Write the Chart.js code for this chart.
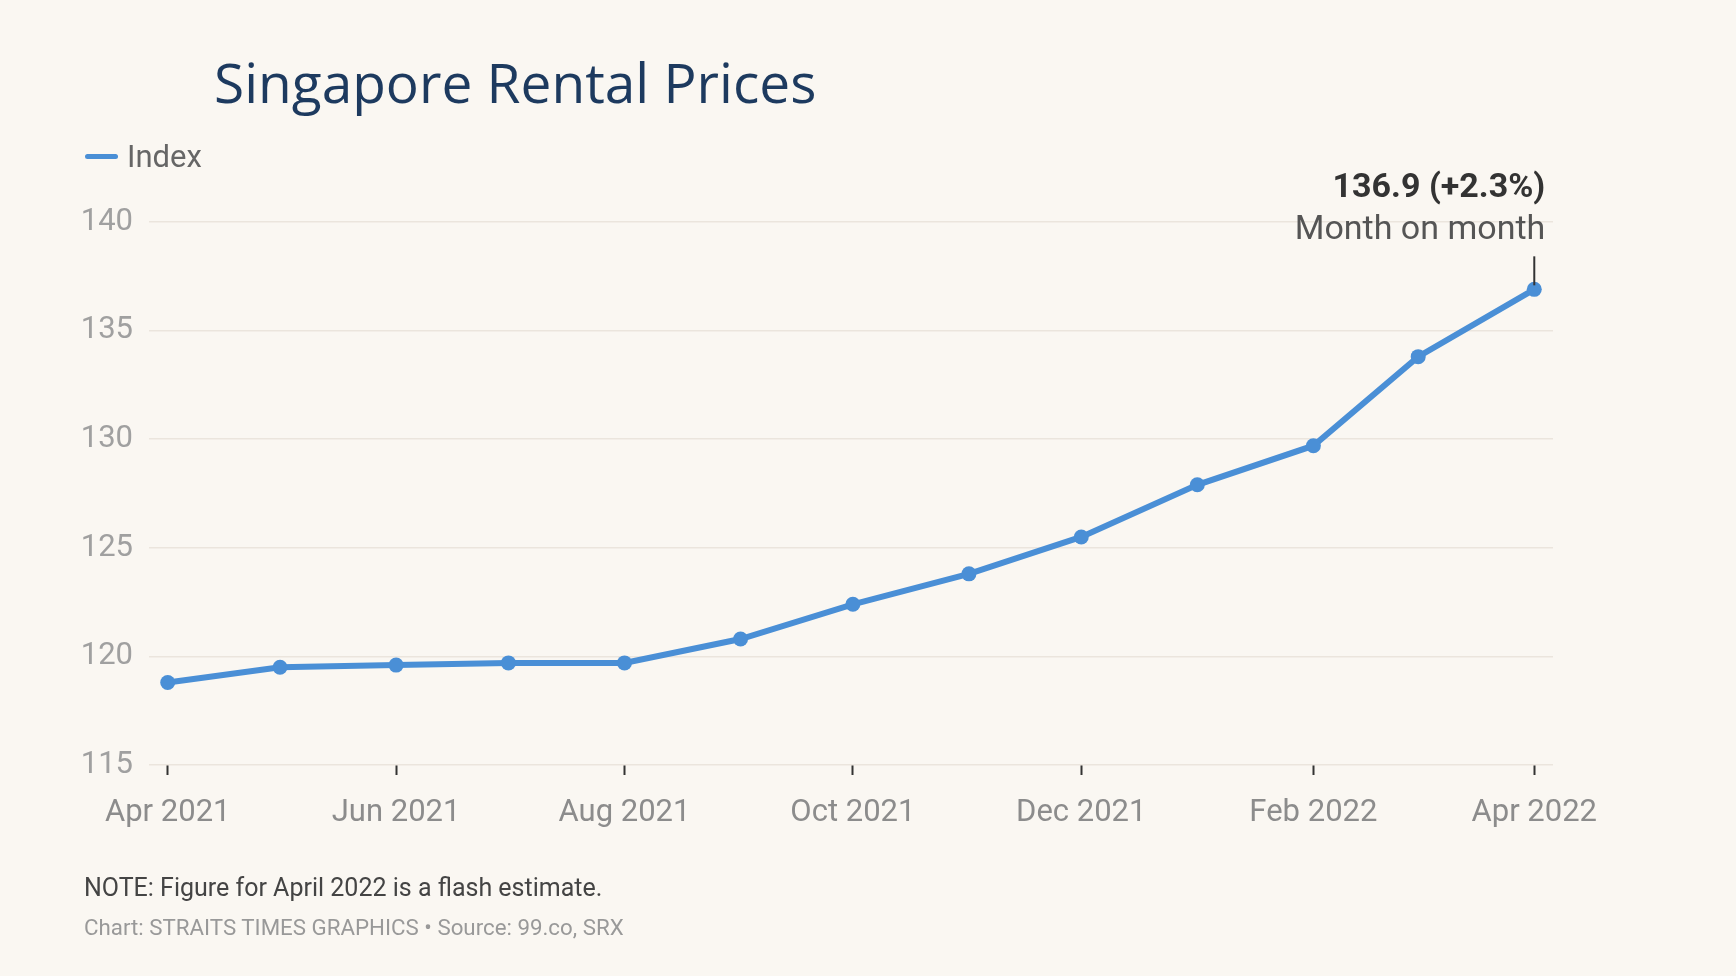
<!DOCTYPE html>
<html>
<head>
<meta charset="utf-8">
<script src="https://cdn.jsdelivr.net/npm/chart.js@4"></script>
<style>
  html, body { margin: 0; padding: 0; background: #faf7f2; }
  #wrap { position: relative; width: 1736px; height: 976px; overflow: hidden; }
  #chart { position: absolute; left: 0; top: 0; }
  .txt { position: absolute; white-space: nowrap; }
  #title { left: 214px; top: 44px; font-family: "Open Sans", sans-serif; font-size: 55px; color: #1d3a5f; }
  #legend { left: 85px; top: 138px; font-family: Roboto, sans-serif; font-size: 31px; color: #666; }
  #legend .sw { display: inline-block; width: 33px; height: 5px; border-radius: 3px; background: #4a8fd6; vertical-align: middle; margin-right: 9px; position: relative; top: -2px; }
  #note { left: 84px; top: 873px; font-family: Roboto, sans-serif; font-size: 25px; color: #444; }
  #source { left: 84px; top: 914px; font-family: Roboto, sans-serif; font-size: 22.3px; color: #999; }
</style>
</head>
<body>
<div id="wrap">
  <canvas id="chart" width="1736" height="976"></canvas>
  <div class="txt" id="title">Singapore Rental Prices</div>
  <div class="txt" id="legend"><span class="sw"></span>Index</div>
  <div class="txt" id="note">NOTE: Figure for April 2022 is a flash estimate.</div>
  <div class="txt" id="source">Chart: STRAITS TIMES GRAPHICS • Source: 99.co, SRX</div>
</div>
<script>
// monthly rental index
var months = ['2021-04', '2021-05', '2021-06', '2021-07', '2021-08', '2021-09', '2021-10',
              '2021-11', '2021-12', '2022-01', '2022-02', '2022-03', '2022-04'];
var indexValues = [118.8, 119.5, 119.6, 119.7, 119.7, 120.8, 122.4,
                   123.8, 125.5, 127.9, 129.7, 133.8, 136.9];

var tickMonths = ['2021-04', '2021-06', '2021-08', '2021-10', '2021-12', '2022-02', '2022-04'];
var tickLabels = ['Apr 2021', 'Jun 2021', 'Aug 2021', 'Oct 2021', 'Dec 2021', 'Feb 2022', 'Apr 2022'];
var yTicks = [115, 120, 125, 130, 135, 140];

var calloutTop = '136.9 (+2.3%)';
var calloutSub = 'Month on month';

// days since first month, so spacing follows the calendar
function dayOf(m) {
    var p = m.split('-');
    return (Date.UTC(+p[0], +p[1] - 1, 1) - Date.UTC(2021, 3, 1)) / 86400000;
}

var points = months.map(function (m, i) { return { x: dayOf(m), y: indexValues[i] }; });
var tickDays = tickMonths.map(dayOf);

var axisFont = { family: 'Roboto, sans-serif', size: 31 };

var calloutPlugin = {
    id: 'callout',
    afterDatasetsDraw: function (chart) {
        var ctx = chart.ctx;
        var last = points[points.length - 1];
        var px = chart.scales.x.getPixelForValue(last.x);
        var py = chart.scales.y.getPixelForValue(last.y);
        ctx.save();
        ctx.strokeStyle = '#333';
        ctx.lineWidth = 2;
        ctx.beginPath();
        ctx.moveTo(px, py - 33);
        ctx.lineTo(px, py - 4);
        ctx.stroke();
        ctx.textAlign = 'right';
        ctx.textBaseline = 'middle';
        ctx.fillStyle = '#333';
        ctx.font = 'bold 34px Roboto, sans-serif';
        ctx.fillText(calloutTop, px + 11, py - 101);
        ctx.fillStyle = '#555';
        ctx.font = '34px Roboto, sans-serif';
        ctx.fillText(calloutSub, px + 11, py - 59);
        ctx.restore();
    }
};

var ctx = document.getElementById('chart').getContext('2d');
var chart = new Chart(ctx, {
    type: 'line',
    data: {
        datasets: [{
            label: 'Index',
            data: points,
            borderColor: '#4a8fd6',
            backgroundColor: '#4a8fd6',
            borderWidth: 6,
            pointRadius: 7.5,
            pointBorderWidth: 0,
            tension: 0
        }]
    },
    options: {
        responsive: false,
        animation: false,
        layout: { padding: { left: 0, top: 222, right: 183, bottom: 141 } },
        plugins: {
            legend: { display: false },
            tooltip: { enabled: false }
        },
        scales: {
            x: {
                type: 'linear',
                min: -5,
                max: 370,
                afterBuildTicks: function (axis) {
                    axis.ticks = tickDays.map(function (d) { return { value: d }; });
                },
                afterFit: function (axis) { axis.height = 70; },
                ticks: {
                    font: axisFont,
                    color: '#8c8c8c',
                    padding: 20,
                    maxRotation: 0,
                    autoSkip: false,
                    callback: function (v) { return tickLabels[tickDays.indexOf(v)]; }
                },
                grid: {
                    drawOnChartArea: false,
                    drawTicks: true,
                    tickLength: 10,
                    tickWidth: 2,
                    tickColor: '#333'
                },
                border: { display: false }
            },
            y: {
                min: 115,
                max: 140,
                afterBuildTicks: function (axis) {
                    axis.ticks = yTicks.map(function (v) { return { value: v }; });
                },
                afterFit: function (axis) { axis.width = 149; },
                ticks: { font: axisFont, color: '#a0a0a0', padding: 16 },
                grid: { color: '#ebe5dd', lineWidth: 1.5, drawTicks: false },
                border: { display: false }
            }
        }
    },
    plugins: [calloutPlugin]
});
</script>
</body>
</html>
